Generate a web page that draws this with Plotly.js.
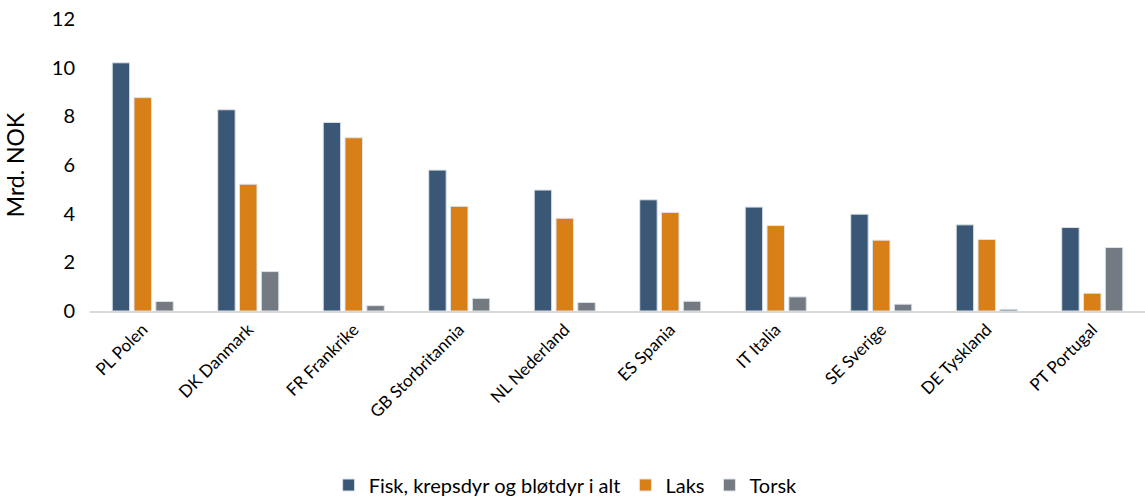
<!DOCTYPE html>
<html><head><meta charset="utf-8">
<script src="https://cdn.plot.ly/plotly-3.0.1.min.js"></script>
<style>body{margin:0;background:#fff}#chart{width:1145px;height:500px}</style>
</head><body><div id="chart"></div>
<script>
const categories = ["PL Polen","DK Danmark","FR Frankrike","GB Storbritannia","NL Nederland","ES Spania","IT Italia","SE Sverige","DE Tyskland","PT Portugal"];
const fisk = [10.2, 8.27, 7.75, 5.79, 4.97, 4.57, 4.27, 3.98, 3.54, 3.43];
const laks = [8.77, 5.21, 7.12, 4.30, 3.81, 4.05, 3.51, 2.91, 2.94, 0.73];
const torsk = [0.39, 1.62, 0.22, 0.52, 0.35, 0.40, 0.58, 0.28, 0.07, 2.61];
const seriesNames = ["Fisk, krepsdyr og bløtdyr i alt", "Laks", "Torsk"];
const colors = ["#3A5775", "#D87F17", "#737A82"];
const yTicks = [0, 2, 4, 6, 8, 10, 12];

const font = "Lato, 'Open Sans', sans-serif";
const traces = [fisk, laks, torsk].map((v, i) => ({
  type: "bar", x: categories, y: v, name: seriesNames[i],
  marker: {color: colors[i], line: {color: "#dde3ea", width: 1}},
  hoverinfo: "x+y"
}));
const layout = {
  width: 1145, height: 500,
  margin: {l: 90, r: 0, t: 19, b: 189},
  paper_bgcolor: "#fff", plot_bgcolor: "#fff",
  barmode: "group", bargap: 0.38, bargroupgap: 0.2,
  font: {family: font, color: "#000"},
  xaxis: {
    tickangle: -45, tickfont: {size: 17, family: font, color: "#000"},
    showline: true, linecolor: "#d9d9d9", linewidth: 2, ticks: "", showgrid: false,
    automargin: false
  },
  yaxis: {
    range: [0, 12], tickvals: yTicks, ticktext: yTicks.map(String),
    tickfont: {size: 20, family: font, color: "#000"}, ticklen: 0, ticks: "",
    ticklabelstandoff: 14,
    showgrid: false, zeroline: false, showline: false, automargin: false,
    title: {text: "Mrd. NOK", font: {size: 23, family: font, color: "#000"}, standoff: 20}
  },
  legend: {
    orientation: "h", x: 0.494, xanchor: "center", xref: "container",
    y: 0.03, yanchor: "middle", yref: "container", font: {size: 20, family: font, color: "#000"},
    itemwidth: 30, tracegroupgap: 0
  },
  showlegend: true
};
Plotly.newPlot("chart", traces, layout, {displayModeBar: false, staticPlot: true});
</script></body></html>
